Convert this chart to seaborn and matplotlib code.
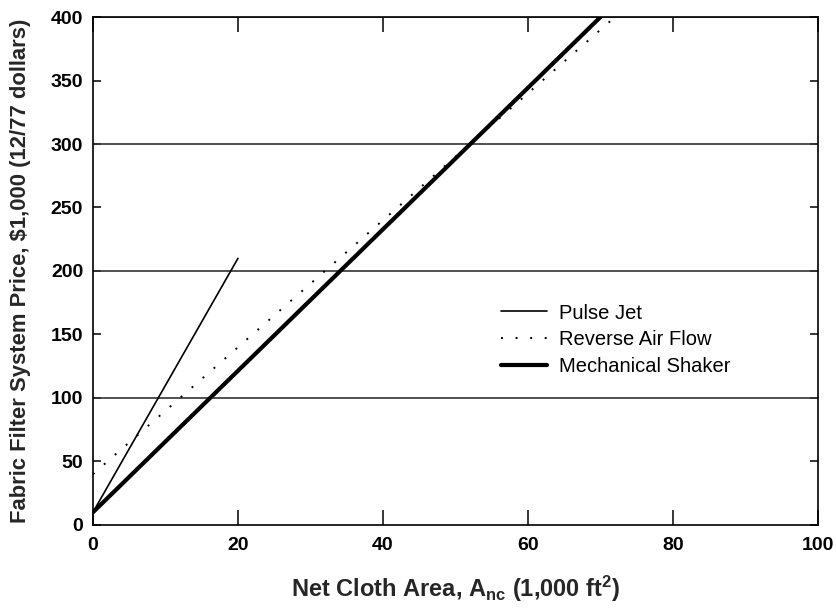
import matplotlib
matplotlib.use("Agg")
import matplotlib.pyplot as plt
import seaborn as sns
import pandas as pd

# Data
pulse_x = [0, 20]
pulse_y = [10, 210]
reverse_x = [0, 72]
reverse_y = [40, 400]
shaker_x = [0, 70]
shaker_y = [10, 400]
x_ticks = [0, 20, 40, 60, 80, 100]
y_ticks = [0, 50, 100, 150, 200, 250, 300, 350, 400]
grid_levels = [100, 200, 300, 400]

sns.set_theme(style="white")
plt.rcParams['font.family'] = ['Liberation Sans', 'DejaVu Sans']
plt.rcParams['mathtext.fontset'] = 'custom'
plt.rcParams['mathtext.rm'] = 'Liberation Sans:bold'
plt.rcParams['mathtext.bf'] = 'Liberation Sans:bold'
plt.rcParams['mathtext.default'] = 'bf'

fig = plt.figure(figsize=(8.36, 6.12), dpi=100)
ax = fig.add_axes([0.1112, 0.1422, 0.8673, 0.8300])

for g in grid_levels:
    ax.axhline(g, color="#333333", lw=1.2, zorder=1)

df_p = pd.DataFrame({"x": pulse_x, "y": pulse_y})
df_r = pd.DataFrame({"x": reverse_x, "y": reverse_y})
df_s = pd.DataFrame({"x": shaker_x, "y": shaker_y})

sns.lineplot(data=df_p, x="x", y="y", ax=ax, color="black", lw=1.2, label="Pulse Jet", zorder=3)
sns.lineplot(data=df_r, x="x", y="y", ax=ax, color="black", lw=1.4, linestyle=(0, (1, 6.5)),
             label="Reverse Air Flow", zorder=3)
sns.lineplot(data=df_s, x="x", y="y", ax=ax, color="black", lw=3.0, label="Mechanical Shaker", zorder=3)

ax.set_xlim(0, 100)
ax.set_ylim(0, 400)
ax.set_xticks(x_ticks)
ax.set_yticks(y_ticks)

for s in ax.spines.values():
    s.set_color("black")
    s.set_linewidth(1.2)

ax.tick_params(axis="x", direction="in", length=10.5, width=1.1, top=True, bottom=True,
               labelsize=14, pad=9, colors="black")
ax.tick_params(axis="y", direction="in", length=6, width=1.1, left=True, right=True,
               labelsize=14, pad=7, colors="black")
for lbl in ax.get_xticklabels() + ax.get_yticklabels():
    lbl.set_fontweight("bold")

ax.set_xlabel(r"Net Cloth Area, A$_{nc}$ (1,000 ft$^{2}$)", fontsize=17,
              fontweight="bold", labelpad=14)
ax.set_ylabel("Fabric Filter System Price, $1,000 (12/77 dollars)", fontsize=15.8,
              fontweight="bold", labelpad=14)

leg = ax.legend(loc="upper left", bbox_to_anchor=(0.563, 0.436), frameon=False, fontsize=14.5,
                handlelength=2.3, labelspacing=0.38, handletextpad=0.55,
                borderpad=0, borderaxespad=0)
for t in leg.get_texts():
    t.set_color("black")

fig.savefig("out.png", dpi=100)
